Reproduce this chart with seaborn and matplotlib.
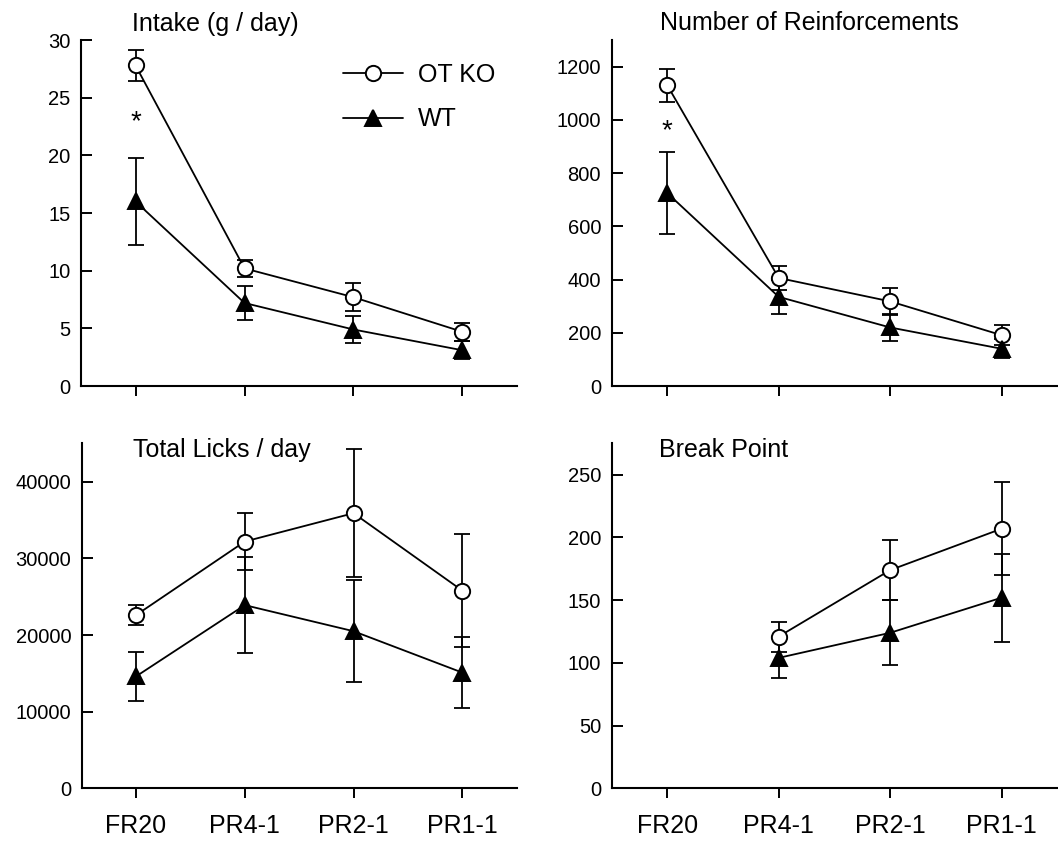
import numpy as np
import pandas as pd
import matplotlib.pyplot as plt
import seaborn as sns

# ---------------- datos (media +/- SEM) ----------------
phases = ['FR20', 'PR4-1', 'PR2-1', 'PR1-1']
groups = ['OT KO', 'WT']

intake_ko = [27.8, 10.2, 7.7, 4.7]
intake_ko_sem = [1.35, 0.75, 1.2, 0.8]
intake_wt = [16.0, 7.2, 4.9, 3.1]
intake_wt_sem = [3.8, 1.5, 1.2, 0.8]

reinf_ko = [1130, 406, 318, 191]
reinf_ko_sem = [63, 45, 50, 37]
reinf_wt = [725, 335, 220, 140]
reinf_wt_sem = [155, 63, 49, 35]

licks_ko = [22600, 32200, 35900, 25800]
licks_ko_sem = [1300, 3700, 8350, 7400]
licks_wt = [14600, 23900, 20500, 15100]
licks_wt_sem = [3150, 6300, 6650, 4650]

bp_ko = [np.nan, 121, 174, 207]
bp_ko_sem = [np.nan, 12, 24, 37]
bp_wt = [np.nan, 104, 124, 152]
bp_wt_sem = [np.nan, 16, 26, 35]

# asterisco de significancia (FR20)
star_intake = 22.3
star_reinf = 930

# ---------------- estilo ----------------
sns.set_style('ticks')
plt.rcParams['font.family'] = ['Liberation Sans', 'DejaVu Sans']
plt.rcParams['text.color'] = 'black'
plt.rcParams['axes.edgecolor'] = 'black'
plt.rcParams['xtick.color'] = 'black'
plt.rcParams['ytick.color'] = 'black'

fig = plt.figure(figsize=(10.58, 8.41), dpi=100)

paneles = [
    dict(title='Intake (g / day)', ko=intake_ko, ko_sem=intake_ko_sem, wt=intake_wt, wt_sem=intake_wt_sem,
         ylim=(0, 30), yticks=np.arange(0, 31, 5), star=star_intake,
         pos=[0.0766, 0.541, 0.412, 0.4114], tx=0.117, ty=1.026, xlab=False, legend=True),
    dict(title='Number of Reinforcements', ko=reinf_ko, ko_sem=reinf_ko_sem, wt=reinf_wt, wt_sem=reinf_wt_sem,
         ylim=(0, 1300), yticks=np.arange(0, 1201, 200), star=star_reinf,
         pos=[0.578, 0.541, 0.4214, 0.4114], tx=0.108, ty=1.029, xlab=False, legend=False),
    dict(title='Total Licks / day', ko=licks_ko, ko_sem=licks_ko_sem, wt=licks_wt, wt_sem=licks_wt_sem,
         ylim=(0, 45000), yticks=np.arange(0, 40001, 10000), star=None,
         pos=[0.0772, 0.0627, 0.4111, 0.410], tx=0.119, ty=0.961, xlab=True, legend=False),
    dict(title='Break Point', ko=bp_ko, ko_sem=bp_ko_sem, wt=bp_wt, wt_sem=bp_wt_sem,
         ylim=(0, 275), yticks=np.arange(0, 251, 50), star=None,
         pos=[0.578, 0.0627, 0.4214, 0.410], tx=0.107, ty=0.961, xlab=True, legend=False),
]

estilos = {
    'OT KO': dict(marker='o', markersize=11, markerfacecolor='white'),
    'WT': dict(marker='^', markersize=12, markerfacecolor='black'),
}

x = np.arange(len(phases))

for p in paneles:
    ax = fig.add_axes(p['pos'])
    for g, vals, sems in [('OT KO', p['ko'], p['ko_sem']), ('WT', p['wt'], p['wt_sem'])]:
        df = pd.DataFrame({'x': x, 'valor': vals, 'sem': sems}).dropna()
        ax.errorbar(df['x'], df['valor'], yerr=df['sem'], fmt='none', ecolor='black',
                    elinewidth=1.3, capsize=6, capthick=1.3, zorder=2)
        sns.lineplot(data=df, x='x', y='valor', ax=ax, color='black', linewidth=1.3,
                     markeredgecolor='black', markeredgewidth=1.4, errorbar=None,
                     label=g, legend=False, zorder=3, **estilos[g])

    if p['star'] is not None:
        ax.text(0, p['star'], '*', ha='center', va='baseline', fontsize=20)

    ax.set_xlim(-0.5, 3.5)
    ax.set_ylim(*p['ylim'])
    ax.set_yticks(p['yticks'])
    ax.set_xticks(x)
    ax.set_xticklabels(phases)
    ax.set_xlabel('')
    ax.set_ylabel('')
    sns.despine(ax=ax)
    for s in ['left', 'bottom']:
        ax.spines[s].set_linewidth(1.5)
    ax.tick_params(axis='y', direction='in', length=8, width=1.4, labelsize=14.5, pad=7.5)
    ax.tick_params(axis='x', direction='out', length=7.5, width=1.4, labelsize=18, pad=11,
                   labelbottom=p['xlab'])
    ax.text(p['tx'], p['ty'], p['title'], transform=ax.transAxes, ha='left', va='baseline', fontsize=18)

    if p['legend']:
        ax.legend(loc='upper left', bbox_to_anchor=(0.601, 0.935), frameon=False, fontsize=18,
                  handlelength=2.4, handletextpad=0.6, labelspacing=0.83, borderpad=0, borderaxespad=0)

plt.savefig('out.png', dpi=100)
